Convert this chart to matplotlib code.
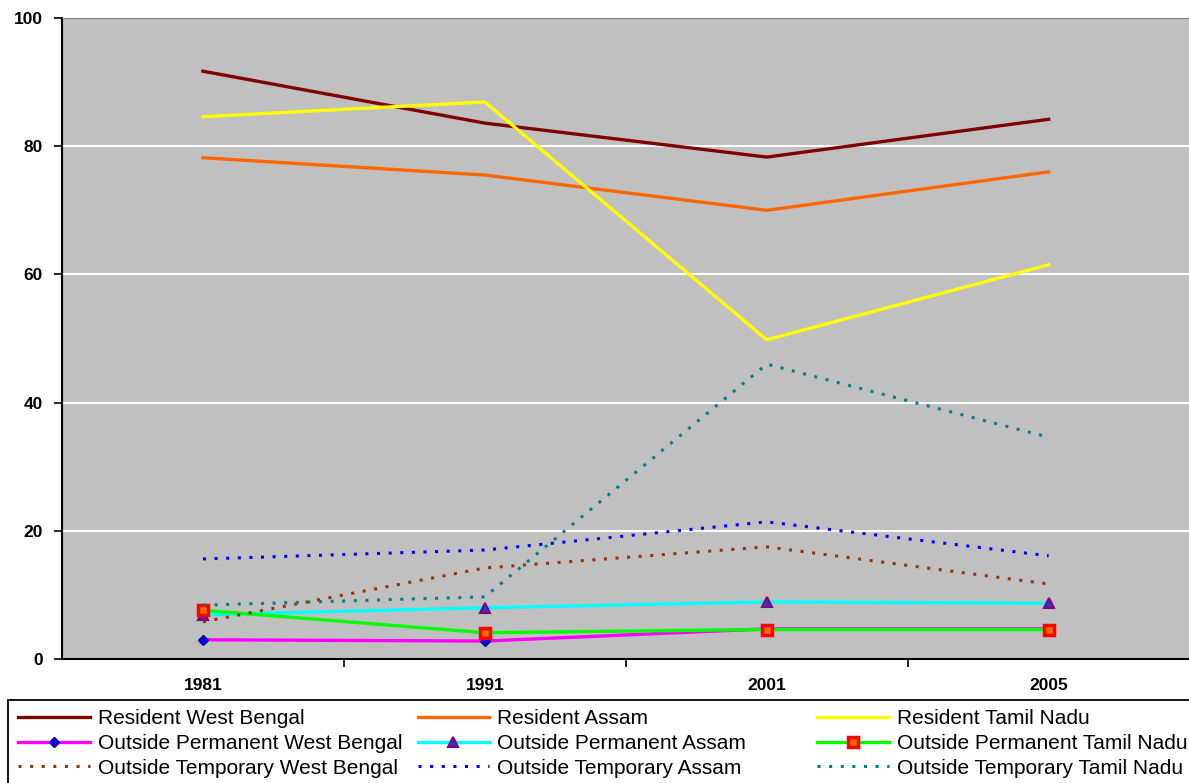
import matplotlib.pyplot as plt
from matplotlib.patches import Rectangle
import numpy as np

years = ['1981', '1991', '2001', '2005']

res_wb = [91.7, 83.6, 78.3, 84.2]
res_assam = [78.2, 75.5, 70.0, 76.0]
res_tn = [84.6, 86.9, 49.8, 61.5]
perm_wb = [3.0, 2.8, 4.7, 4.7]
perm_assam = [6.9, 8.0, 8.9, 8.7]
perm_tn = [7.6, 4.1, 4.6, 4.6]
temp_wb = [5.8, 14.2, 17.5, 11.7]
temp_assam = [15.6, 17.0, 21.4, 16.1]
temp_tn = [8.4, 9.7, 46.0, 34.6]

plt.rcParams['font.family'] = ['Liberation Sans', 'DejaVu Sans']

W, H = 1189, 783
fig = plt.figure(figsize=(W / 100, H / 100), dpi=100)
ax = fig.add_axes([62 / W, 1 - 659 / H, 1 - 62 / W + 0.01, (659 - 18) / H])
ax.set_facecolor('#C0C0C0')

x = np.arange(len(years))
dot = (0, (1, 2.8))

ax.plot(x, res_wb, color='#800000', lw=2.4, label='Resident West Bengal')
ax.plot(x, res_assam, color='#FF6600', lw=2.4, label='Resident Assam')
ax.plot(x, res_tn, color='#FFFF00', lw=2.4, label='Resident Tamil Nadu')
ax.plot(x, perm_wb, color='#FF00FF', lw=2.4, marker='D', ms=5,
        mfc='#0000FF', mec='#000080', label='Outside Permanent West Bengal')
ax.plot(x, perm_assam, color='#00FFFF', lw=2.4, marker='^', ms=7,
        mfc='#3333CC', mec='#800080', mew=1.5, label='Outside Permanent Assam')
ax.plot(x, perm_tn, color='#00FF00', lw=2.4, marker='s', ms=7,
        mfc='#FF6600', mec='#FF0000', mew=2.5, label='Outside Permanent Tamil Nadu')
ax.plot(x, temp_wb, color='#993300', lw=2.2, ls=dot, label='Outside Temporary West Bengal')
ax.plot(x, temp_assam, color='#0000FF', lw=2.2, ls=dot, label='Outside Temporary Assam')
ax.plot(x, temp_tn, color='#008080', lw=2.2, ls=dot, label='Outside Temporary Tamil Nadu')

ax.set_ylim(0, 100)
ax.set_xlim(-0.5, 3.5 + 0.04)
ax.set_yticks([0, 20, 40, 60, 80, 100])
ax.set_yticklabels(['0', '20', '40', '60', '80', '100'], fontweight='bold', fontsize=12.5)
ax.yaxis.grid(True, color='white', lw=1.5)
ax.set_axisbelow(True)

# year labels sit between the category boundary ticks
ax.set_xticks([0.5, 1.5, 2.5])
ax.set_xticklabels([])
ax.set_xticks(x, minor=True)
ax.set_xticklabels(years, minor=True, fontweight='bold', fontsize=12.5)
ax.tick_params(axis='x', which='minor', length=0, pad=14)
ax.tick_params(axis='x', which='major', length=6, width=1.2, direction='out')
ax.tick_params(axis='y', length=6, width=1.2, direction='out', pad=8)

for side in ['left', 'bottom']:
    ax.spines[side].set_linewidth(1.5)
ax.spines['top'].set_color('#808080')
ax.spines['right'].set_visible(False)

# legend box along the bottom, three fixed-width columns
fig.patches.append(Rectangle((8 / W, -0.01), 1.0, (H - 700) / H + 0.01,
                             transform=fig.transFigure, fill=False,
                             edgecolor='black', lw=1.3))
handles, labels = ax.get_legend_handles_labels()
for col in range(3):
    idx = [col, col + 3, col + 6]
    fig.legend([handles[i] for i in idx], [labels[i] for i in idx],
               loc='upper left', bbox_to_anchor=((18 + 399.5 * col) / W, 1 - 709 / H),
               fontsize=15, frameon=False, handlelength=3.45, handletextpad=0.38,
               labelspacing=0.28, borderpad=0.0, borderaxespad=0.0)

fig.savefig('out.png', dpi=100)
